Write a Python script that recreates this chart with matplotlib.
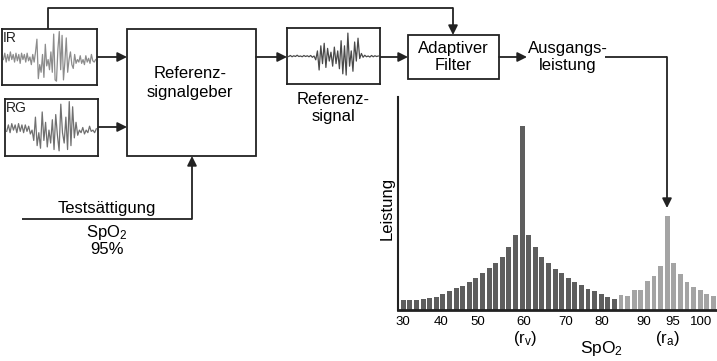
import matplotlib.pyplot as plt

plt.rcParams['font.family'] = ['Liberation Sans', 'DejaVu Sans']
plt.rcParams['mathtext.fontset'] = 'custom'
plt.rcParams['mathtext.rm'] = 'Liberation Sans'
plt.rcParams['mathtext.default'] = 'regular'

# Leistung je SpO2-Balken (willkürliche Einheiten)
leistung_venoes = [10, 10, 10, 10.7, 11.7, 13.3, 15.7, 19, 21.7, 24.3, 28, 31.7,
                   36.7, 41.7, 46.7, 52.7, 62.7, 74.7, 184, 74.7, 62.7, 53.3,
                   46.7, 41.3, 36.7, 31.7, 27.7, 25, 21.5, 18.7, 15.7, 13.3, 11.3]
leistung_arteriell = [14.7, 14.3, 20.3, 20.3, 28.7, 33.7, 44.3, 93.7, 47, 36,
                      28, 22.7, 20, 16, 13.7]
tick_labels = ['30', '40', '50', '60', '70', '80', '90', '95', '100']
tick_pos = [0, 5.8, 11.3, 18.2, 24.6, 30.1, 36.5, 40.8, 45.2]

# Signalverläufe in den kleinen Kästen (relative Amplitude)
ir_signal = [0.1, -0.15, 0.2, -0.1, 0.15, -0.2, 0.1, -0.1, 0.2, -0.15, 0.15, -0.1,
             0.25, -0.15, 0.1, -0.1, 0.2, -0.15, 0.15, 0.0, 0.3, -0.1, 0.2, -0.2,
             -0.7, 0.85, 0.3, 0.6, -0.1, 0.8, -0.5, 0.35, 0.1, 0.5, -0.2, 0.6,
             -0.9, 0.9, 0.95, -0.3, -1.0, 0.5, -0.85, 0.9, 0.2, -0.75, 0.6, 0.1,
             -0.2, 0.3, 0.45, -0.1, 0.25, 0.1, 0.2, -0.05, 0.25, 0.1, 0.3, -0.05,
             0.2, 0.05, 0.25, -0.1, 0.15, 0.2, 0.1]
rg_signal = [0.15, -0.1, 0.2, -0.15, 0.1, -0.1, 0.2, -0.15, 0.15, -0.1, 0.2, -0.1,
             0.15, -0.05, 0.25, 0.1, 0.5, -0.4, 0.7, 0.2, 0.8, -0.6, 0.5, -0.2,
             0.75, 0.1, 0.6, -0.3, 0.85, -0.5, 0.3, 0.9, -0.9, 0.2, 0.6, -0.4,
             0.85, -1.0, 0.7, -0.8, 0.4, -0.2, 0.3, 0.1, 0.2, 0.0, 0.25, 0.1,
             0.2, -0.05, 0.15, 0.1, 0.2, 0.05]
ref_signal = [0.02, -0.02, 0.03, -0.01, 0.02, -0.03, 0.02, 0.0, 0.03, -0.02, 0.02,
              -0.01, 0.03, -0.02, 0.05, 0.0, 0.15, -0.2, 0.55, -0.4, 0.3, -0.5,
              0.45, -0.3, 0.2, -0.15, 0.4, -0.35, 0.3, -0.2, 0.5, -0.6, 0.7, -0.4,
              0.75, -0.9, 0.4, -0.2, 0.6, -0.55, 0.2, -0.7, 0.1, -0.1, 0.05, -0.03,
              0.03, 0.0, 0.04, -0.02, 0.03, -0.01, 0.02, 0.0]

W, H = 717, 361
LC = '#222222'

fig = plt.figure(figsize=(W / 100, H / 100), dpi=100)


def px_axes(x0, y0, x1, y1):
    return fig.add_axes([x0 / W, 1 - y1 / H, (x1 - x0) / W, (y1 - y0) / H])


def signal_kasten(x0, y0, x1, y1, werte, farbe, label=None):
    ax = px_axes(x0, y0, x1, y1)
    ax.plot(werte, color=farbe, lw=0.9)
    ax.set_xlim(-1, len(werte))
    ax.set_ylim(1.1, -1.1)
    ax.set_xticks([])
    ax.set_yticks([])
    for s in ax.spines.values():
        s.set_linewidth(1.3)
        s.set_color(LC)
    if label:
        ax.text(0.01, 0.97, label, transform=ax.transAxes, ha='left', va='top',
                fontsize=10, color=LC)
    return ax


# Zeichenfläche für das Blockschaltbild (Pixelkoordinaten)
ax0 = fig.add_axes([0, 0, 1, 1])
ax0.set_xlim(0, W)
ax0.set_ylim(H, 0)
ax0.axis('off')


def pfeil(p_von, p_nach):
    ax0.annotate('', xy=p_nach, xytext=p_von,
                 arrowprops=dict(arrowstyle='-|>', color=LC, lw=1.3,
                                 mutation_scale=14, shrinkA=0, shrinkB=0))


def linie(xs, ys):
    ax0.plot(xs, ys, color=LC, lw=1.3, solid_capstyle='butt')


# Kästen
ax0.add_patch(plt.Rectangle((127, 29), 129, 127, fill=False, ec=LC, lw=1.3))
ax0.add_patch(plt.Rectangle((408, 35), 91, 44, fill=False, ec=LC, lw=1.3))
ax0.text(190, 83, 'Referenz-\nsignalgeber', ha='center', va='center',
         fontsize=12, linespacing=1.3)
ax0.text(453, 57, 'Adaptiver\nFilter', ha='center', va='center', fontsize=12,
         linespacing=1.1)
ax0.text(333, 108, 'Referenz-\nsignal', ha='center', va='center', fontsize=12,
         linespacing=1.2)
ax0.text(568, 57, 'Ausgangs-\nleistung', ha='center', va='center', fontsize=12,
         linespacing=1.15)

# Verbindungen
pfeil((97, 57), (127, 57))
pfeil((98, 127), (127, 127))
pfeil((256, 57), (287, 57))
pfeil((380, 57), (408, 57))
pfeil((499, 57), (527, 57))
linie([48, 48, 453], [29, 8, 8])
pfeil((453, 8), (453, 35))
linie([605, 667], [57, 57])
pfeil((667, 57), (667, 208))
linie([22, 192], [219, 219])
pfeil((192, 219), (192, 156))

ax0.text(107, 209, 'Testsättigung', ha='center', va='center', fontsize=12)
ax0.text(107, 233, 'SpO$_2$', ha='center', va='center', fontsize=12)
ax0.text(107, 249, '95%', ha='center', va='center', fontsize=12)
ax0.text(387, 208, 'Leistung', ha='center', va='center', rotation=90, fontsize=12)

# Signal-Kästen
signal_kasten(2, 29, 97, 85, ir_signal, '#8c8c8c', 'IR')
signal_kasten(5, 99, 98, 156, rg_signal, '#707070', 'RG')
signal_kasten(287, 28, 380, 84, ref_signal, '#4a4a4a')

# Balkendiagramm
axb = px_axes(398, 97, 717, 310)
n_v = len(leistung_venoes)
n_a = len(leistung_arteriell)
axb.bar(range(n_v), leistung_venoes, width=0.75, color='#5e5e5e')
axb.bar(range(n_v, n_v + n_a), leistung_arteriell, width=0.75, color='#a4a4a4')
axb.set_xlim(-0.8, n_v + n_a - 0.45)
axb.set_ylim(0, 213)
axb.set_xticks(tick_pos)
axb.set_xticklabels(tick_labels, fontsize=9.5)
axb.tick_params(axis='x', length=0, pad=4)
axb.set_yticks([])
axb.patch.set_alpha(0)
for s in ['top', 'right']:
    axb.spines[s].set_visible(False)
axb.spines['left'].set_linewidth(1.5)
axb.spines['bottom'].set_linewidth(2)
axb.spines['left'].set_color(LC)
axb.spines['bottom'].set_color(LC)

ax0.text(525, 338, '(r$_v$)', ha='center', va='center', fontsize=12)
ax0.text(667, 338, '(r$_a$)', ha='center', va='center', fontsize=12)
ax0.text(602, 348, 'SpO$_2$', ha='center', va='center', fontsize=12.5)

fig.savefig('out.png', dpi=100)
